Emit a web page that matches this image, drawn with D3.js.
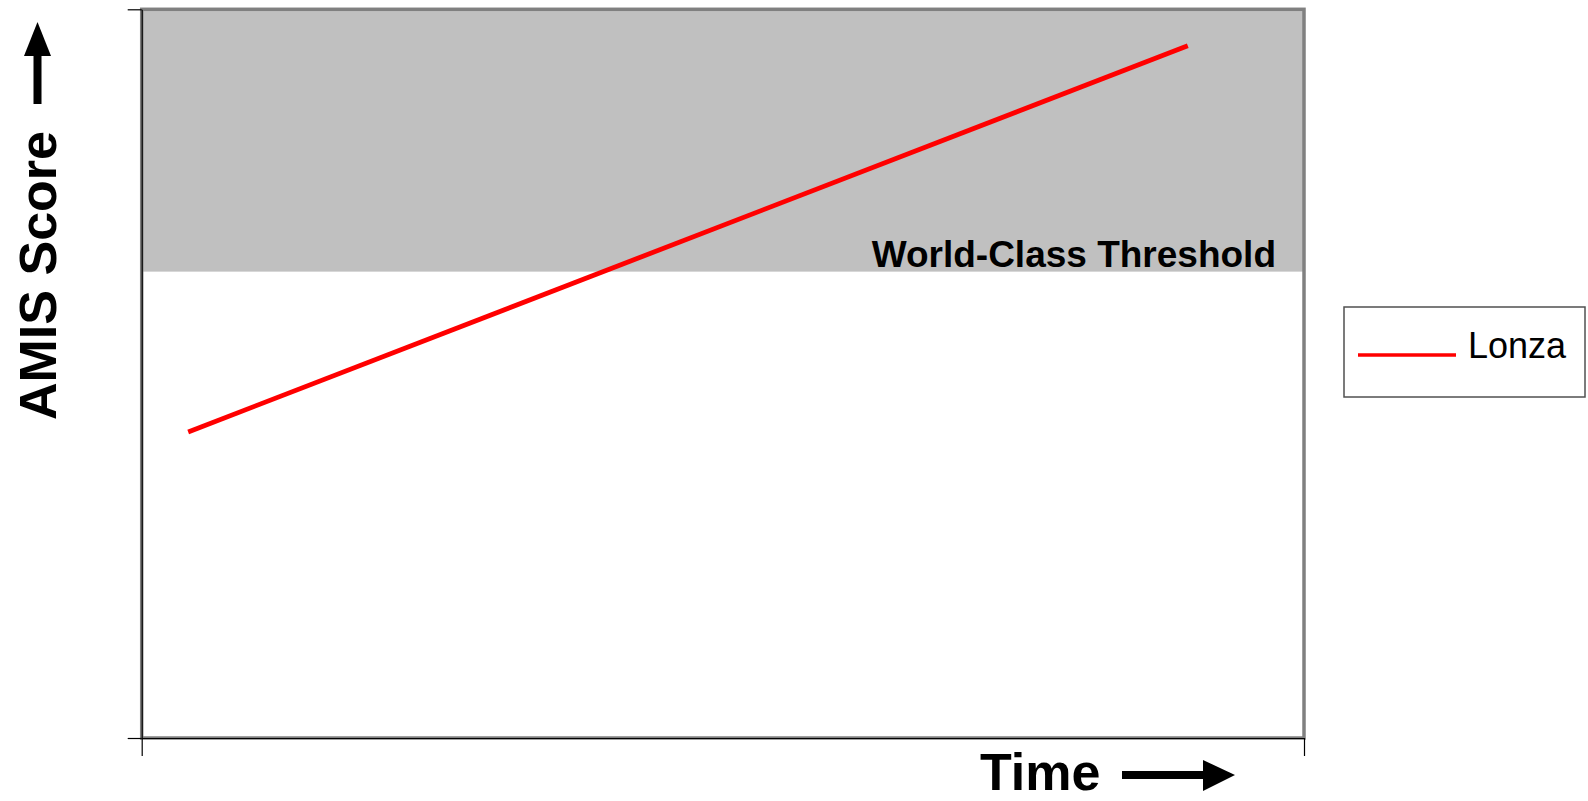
<!DOCTYPE html>
<html>
<head>
<meta charset="utf-8">
<script src="https://d3js.org/d3.v7.min.js"></script>
<style>
  body { margin: 0; background: #fff; }
  svg { display: block; font-family: "Liberation Sans", Arial, sans-serif; }
</style>
</head>
<body>
<div id="chart"></div>
<script>
// series: Lonza AMIS score over time (arbitrary units)
const timeValues = [4, 90];
const scoreValues = [42, 95];
const seriesName = "Lonza";
const thresholdValue = 64;
const thresholdLabel = "World-Class Threshold";
const xDomain = [0, 100];
const yDomain = [0, 100];

const W = 1588, H = 801;
const plot = { left: 141.7, right: 1304, top: 9.3, bottom: 738 };

const svg = d3.select("#chart").append("svg").attr("width", W).attr("height", H);

const x = d3.scaleLinear().domain(xDomain).range([plot.left, plot.right]);
const y = d3.scaleLinear().domain(yDomain).range([plot.bottom, plot.top]);

// plot frame
svg.append("rect")
  .attr("x", plot.left).attr("y", plot.top)
  .attr("width", plot.right - plot.left).attr("height", plot.bottom - plot.top)
  .attr("fill", "#fff");

// world-class band
svg.append("rect")
  .attr("x", x(xDomain[0])).attr("y", y(yDomain[1]))
  .attr("width", x(xDomain[1]) - x(xDomain[0]))
  .attr("height", y(thresholdValue) - y(yDomain[1]))
  .attr("fill", "#c0c0c0");

svg.append("rect")
  .attr("x", plot.left).attr("y", plot.top)
  .attr("width", plot.right - plot.left).attr("height", plot.bottom - plot.top)
  .attr("fill", "none").attr("stroke", "#808080").attr("stroke-width", 3.5);

svg.append("text")
  .attr("x", plot.right - 28).attr("y", y(thresholdValue) - 5)
  .attr("text-anchor", "end")
  .style("font-size", "37px").style("font-weight", "bold")
  .text(thresholdLabel);

// axes: only end ticks, no labels
const yAxis = svg.append("g")
  .attr("transform", "translate(" + plot.left + ",0)")
  .call(d3.axisLeft(y).tickValues(yDomain).tickSize(14).tickSizeOuter(0).tickFormat(""));
const xAxis = svg.append("g")
  .attr("transform", "translate(0," + plot.bottom + ")")
  .call(d3.axisBottom(x).tickValues(xDomain).tickSize(18).tickSizeOuter(0).tickFormat(""));
[yAxis, xAxis].forEach(a => {
  a.select(".domain").attr("stroke", "#000").attr("stroke-width", 1.2);
  a.selectAll(".tick line").attr("stroke", "#000").attr("stroke-width", 1.2);
});

// line
const pts = timeValues.map((t, i) => [t, scoreValues[i]]);
svg.append("path")
  .datum(pts)
  .attr("fill", "none")
  .attr("stroke", "#ff0000")
  .attr("stroke-width", 4.8)
  .attr("d", d3.line().x(d => x(d[0])).y(d => y(d[1])));

// axis titles with arrows
svg.append("text")
  .attr("x", 980).attr("y", 790)
  .style("font-size", "52px").style("font-weight", "bold")
  .text("Time");
svg.append("rect").attr("x", 1122).attr("y", 771).attr("width", 83).attr("height", 8).attr("fill", "#000");
svg.append("path").attr("d", "M1203,760 L1235,775 L1203,791 Z").attr("fill", "#000");

svg.append("text")
  .attr("transform", "translate(56,420) rotate(-90)")
  .style("font-size", "52px").style("font-weight", "bold")
  .text("AMIS Score");
svg.append("rect").attr("x", 33.5).attr("y", 50).attr("width", 8).attr("height", 54).attr("fill", "#000");
svg.append("path").attr("d", "M24,56 L37.5,22 L51,56 Z").attr("fill", "#000");

// legend
const lg = svg.append("g").attr("transform", "translate(1344,307)");
lg.append("rect").attr("width", 241).attr("height", 90)
  .attr("fill", "#fff").attr("stroke", "#505050").attr("stroke-width", 1.5);
lg.append("line").attr("x1", 14).attr("x2", 112).attr("y1", 48).attr("y2", 48)
  .attr("stroke", "#ff0000").attr("stroke-width", 3.5);
lg.append("text").attr("x", 124).attr("y", 51)
  .style("font-size", "36px")
  .text(seriesName);
</script>
</body>
</html>
